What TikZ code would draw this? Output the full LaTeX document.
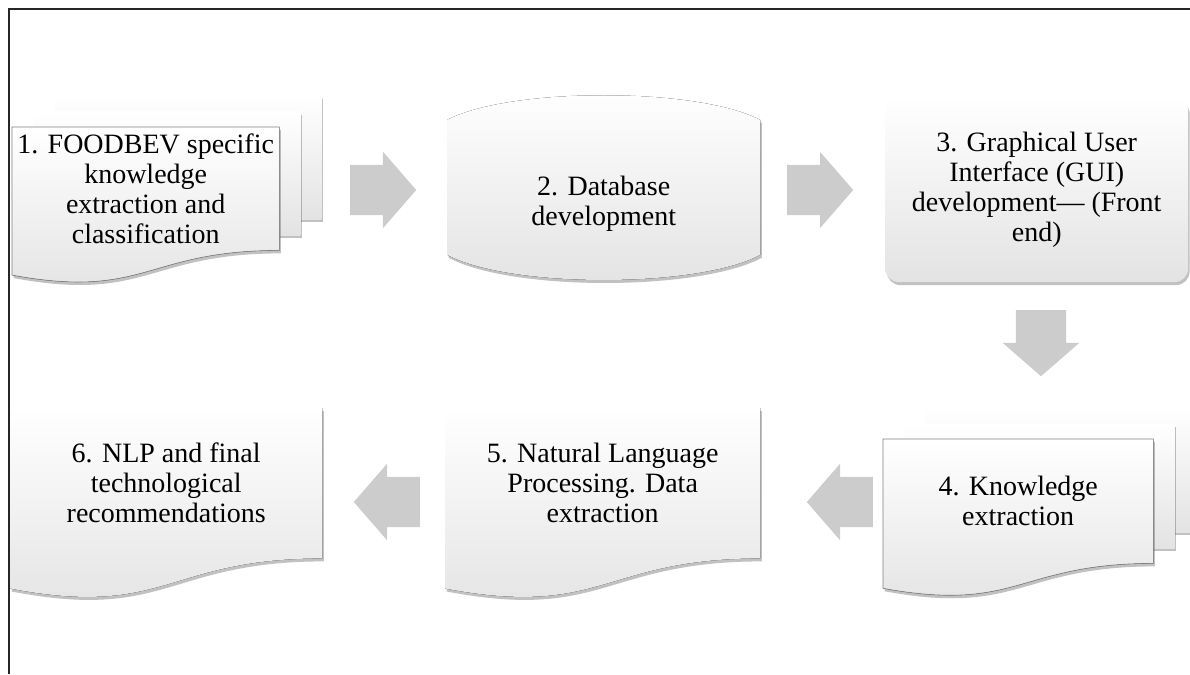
\documentclass[tikz,border=0pt]{standalone}
\usepackage{fontspec}
\setmainfont{Liberation Serif}
\usetikzlibrary{shapes.arrows,shadows,backgrounds,calc}

\begin{document}
\begin{tikzpicture}[x=1pt, y=-1pt,
  stepbox/.style={inner sep=0, align=center, font=\fontsize{28pt}{30pt}\selectfont},
  sheet/.style={top color=white, bottom color=black!11,
    drop shadow={shadow xshift=1.5pt, shadow yshift=-3pt, opacity=.35, fill=black!70}},
  docpath/.style={insert path={(#1.north west) -- (#1.north east) -- (#1.south east)
    .. controls (#1.south) and ($(#1.north)!1.4!(#1.south)$) .. ($(#1.north west)!1.2!(#1.south west)$) -- cycle}},
  dbpath/.style={insert path={(#1.north west)
    .. controls ($(#1.north west)!.2!(#1.north east)+(0,-33)$) and ($(#1.north west)!.8!(#1.north east)+(0,-33)$) .. (#1.north east)
    -- ($(#1.north east)!.8!(#1.south east)$)
    .. controls ($(#1.south west)!.8!(#1.south east)$) and ($(#1.south west)!.2!(#1.south east)$) .. ($(#1.north west)!.8!(#1.south west)$) -- cycle}},
  blockarrow/.style={single arrow, single arrow head extend=13pt, single arrow tip angle=98,
    minimum height=66pt, inner xsep=0pt, inner ysep=25pt, font=\tiny, fill=black!20, anchor=tail}
]
  \useasboundingbox (0,0) rectangle (1190,674);

  \node[stepbox, anchor=north west, minimum width=267pt, minimum height=123pt] (doc1) at (12,127)
    {1. FOODBEV specific\\knowledge\\extraction and\\classification};
  \node[stepbox, anchor=north west, minimum width=313pt, minimum height=168pt] (db2) at (447,120)
    {2. Database\\development};
  \node[stepbox, sheet, rounded corners=14pt, anchor=north west, minimum width=303pt, minimum height=185pt] (gui3) at (885,97)
    {3. Graphical User\\Interface (GUI)\\development--- (Front\\end)};
  \node[stepbox, anchor=north west, minimum width=270pt, minimum height=124pt] (doc4) at (883,439)
    {4. Knowledge\\extraction};
  \node[stepbox, anchor=north west, minimum width=315pt, minimum height=150pt] (doc5) at (445,408)
    {5. Natural Language\\Processing. Data\\extraction};
  \node[stepbox, anchor=north west, minimum width=312pt, minimum height=150pt] (doc6) at (10,408)
    {6. NLP and final\\technological\\recommendations};

  % arrows between the steps
  \node[blockarrow] (a12) at (350,190) {};
  \node[blockarrow] (a23) at (787,190) {};
  \node[blockarrow, rotate=-90] (a34) at (1041,310) {};
  \node[blockarrow, rotate=180] (a45) at (873,502) {};
  \node[blockarrow, rotate=180] (a56) at (420,502) {};

  \begin{pgfonlayer}{background}
    \foreach \d in {doc1,doc4} {
      \fill[sheet] ($(\d.north west)+(42,-31)$) rectangle ($(\d.south east)+(42,-31)$);
      \fill[sheet] ($(\d.north west)+(21,-15)$) rectangle ($(\d.south east)+(21,-15)$);
      \fill[sheet, draw=black!50, line width=.6pt, docpath=\d];
    }
    \fill[sheet, dbpath=db2];
    \fill[sheet, docpath=doc5];
    \fill[sheet, docpath=doc6];
  \end{pgfonlayer}

  \draw[line width=2pt, black!85] (1190,9) -- (9,9) -- (9,674);
\end{tikzpicture}
\end{document}
